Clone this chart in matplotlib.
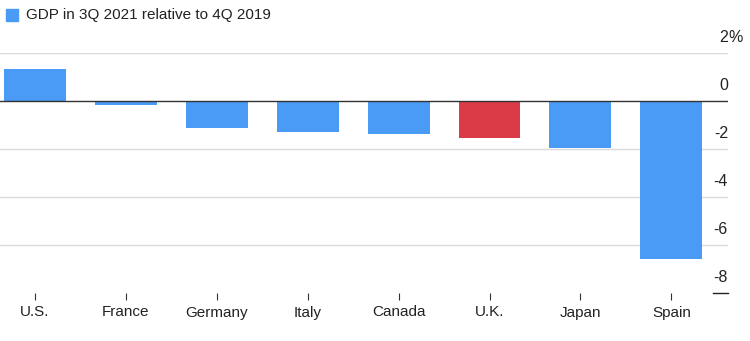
import matplotlib
matplotlib.use("Agg")
import matplotlib.pyplot as plt
from matplotlib.transforms import offset_copy
from matplotlib.patches import Rectangle

countries = ["U.S.", "France", "Germany", "Italy", "Canada", "U.K.", "Japan", "Spain"]
gdp_change = [1.35, -0.15, -1.13, -1.28, -1.39, -1.55, -1.96, -6.6]
highlight = "U.K."
y_ticks = [2, 0, -2, -4, -6, -8]
y_tick_labels = ["2", "0", "-2", "-4", "-6", "-8"]
legend_label = "GDP in 3Q 2021 relative to 4Q 2019"

BLUE = "#4a9bf6"
RED = "#da3b46"

plt.rcParams['font.family'] = ['Liberation Sans', 'DejaVu Sans']

fig = plt.figure(figsize=(7.5, 3.41), dpi=100)
ax = fig.add_axes([0.0, (341 - 293) / 341, 728 / 750, (293 - 53) / 341])

x = list(range(len(countries)))
colors = [RED if c == highlight else BLUE for c in countries]
ax.bar(x, gdp_change, width=0.68, color=colors, zorder=3)

ax.set_xlim(-35 / 90.9, (728 - 35) / 90.9)
ax.set_ylim(-8, 2)

for s in ax.spines.values():
    s.set_visible(False)

# gridlines
for t in y_ticks:
    if t == -8:
        continue
    if t == 0:
        ax.axhline(0, color="#333333", lw=1.0, zorder=4)
    else:
        ax.axhline(t, color="#dadada", lw=1.0, zorder=1)

# short tick at bottom right
ax.plot([713 / 728, 1.0], [0, 0], transform=ax.transAxes, color="#222222", lw=1.0, clip_on=False)

# y tick labels on the right above gridlines
for t, lab in zip(y_ticks, y_tick_labels):
    tr = offset_copy(ax.get_yaxis_transform(), fig=fig, x=0, y=8, units='dots')
    ax.text(1.0, t, lab, transform=tr, ha='right', va='bottom', fontsize=11.5, color="#222222")
    if t == 2:
        ax.text(1.0, t, "%", transform=tr, ha='left', va='bottom', fontsize=11.5, color="#222222")

ax.set_yticks([])
ax.set_xticks(x)
ax.set_xticklabels(countries, fontsize=11, color="#222222")
ax.tick_params(axis='x', length=5, width=0.8, color="#333333", pad=4, direction='out')

# legend
fig.patches.append(Rectangle((6 / 750, 1 - 21 / 341), 12 / 750, 12 / 341,
                             transform=fig.transFigure, color=BLUE))
fig.text(26 / 750, 1 - 15 / 341, legend_label, ha='left', va='center', fontsize=11, color="#222222")

fig.savefig("out.png", dpi=100)
